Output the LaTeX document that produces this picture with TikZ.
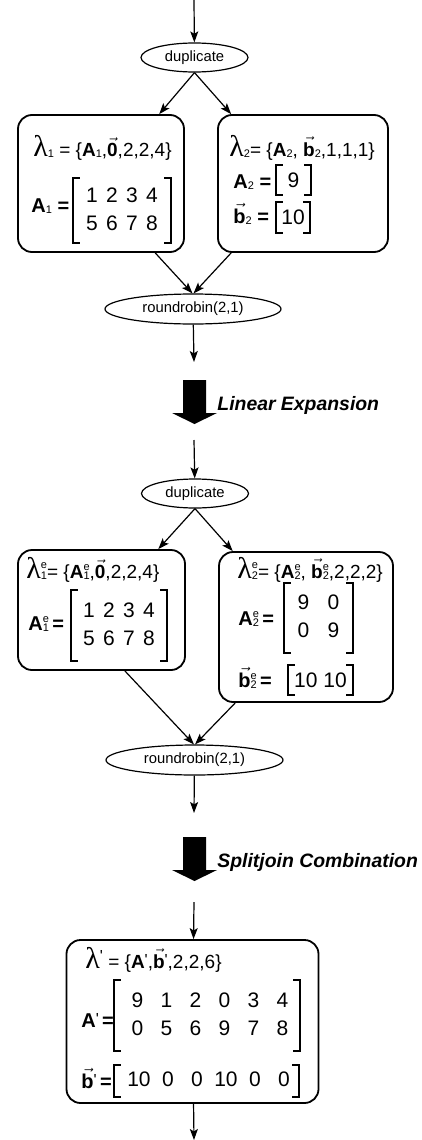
\documentclass[tikz,border=0pt]{standalone}
\usepackage{amsmath}
\usepackage{array}
\usepackage{fontspec}
\setmainfont{Liberation Sans}
\newfontfamily\lamfont{Liberation Serif}
\usetikzlibrary{shapes.geometric,arrows.meta}

\setlength\tabcolsep{0pt}
\newcolumntype{C}[1]{>{\centering\arraybackslash}p{#1}}
\newcommand\lam{{\fontsize{15}{15}\selectfont\lamfont λ}}
% small stacked super/subscript
\newcommand\ud[3][3.6pt]{{\fontsize{5.5}{6}\selectfont\mdseries\rlap{\raisebox{#1}{#2}}\raisebox{-0.6pt}{#3}}}
\newcommand\pr[1][1.5pt]{{\fontsize{8}{8}\selectfont\mdseries\raisebox{#1}{\textquotesingle}}}
\newcommand\vz{$\vec{\text{\bfseries 0}}$}
\newcommand\vb{$\vec{\text{\bfseries b}}$}
\newcommand\brackets[1]{%
  \draw[brk] ([xshift=3.5pt]#1.north west) -- (#1.north west) -- (#1.south west) -- ++(3.5pt,0);
  \draw[brk] ([xshift=-3.5pt]#1.north east) -- (#1.north east) -- (#1.south east) -- ++(-3.5pt,0);}

\tikzset{
  conn/.style={-{Stealth[length=5.5pt,width=4pt,inset=1.2pt]},line width=0.6pt},
  filt/.style={draw,ellipse,line width=0.6pt,inner sep=0pt,font=\fontsize{7.4}{9}\selectfont},
  sbox/.style={draw,rounded corners=7pt,line width=0.9pt,inner sep=0pt},
  lamtxt/.style={anchor=base west,inner sep=0pt,font=\fontsize{9.5}{11}\selectfont},
  lbl/.style={anchor=base west,inner sep=0pt,font=\fontsize{10}{12}\selectfont},
  mat/.style={inner sep=0pt,font=\fontsize{10.5}{14}\selectfont},
  brk/.style={line width=1pt},
  trans/.style={anchor=base west,inner sep=0pt,font=\fontsize{9.7}{12}\selectfont\bfseries\itshape},
}

\begin{document}
\begin{tikzpicture}[x=0.5pt,y=-0.5pt]
    \useasboundingbox (0,0) rectangle (422,1140);

    % before expansion
    \coordinate (in1) at (194,0);
    \node[filt,minimum width=53.5pt,minimum height=14.5pt] (dup1) at (194.5,57.5) {duplicate};
    \node[sbox,minimum width=83pt,minimum height=68.5pt] (L1) at (101,183.5) {};
    \node[sbox,minimum width=85pt,minimum height=68.5pt] (R1) at (303,183.5) {};
    \node[filt,minimum width=88pt,minimum height=15pt] (rr1) at (193,309) {roundrobin(2,1)};
    \coordinate (out1) at (194,362);

    \node[lamtxt] (lam1) at (33,156) {\lam\ud{}{1} = \{\textbf{A}\ud{}{1},\vz,2,2,4\}};
    \node[lbl] (a1) at (31,212) {\textbf{A}\ud{}{1} \textbf{=}};
    \node[mat,minimum width=49pt,minimum height=32.5pt] (m1) at (122,210.5)
        {\begin{tabular}{*{4}{C{10pt}}}1&2&3&4\\5&6&7&8\end{tabular}};
    \brackets{m1}

    \node[lamtxt] (lam2) at (229,156) {\lam\ud{}{2}= \{\textbf{A}\ud{}{2}, \vb\ud{}{2},1,1,1\}};
    \node[lbl] (a2) at (233,188) {\textbf{A}\ud{}{2} \textbf{=}};
    \node[mat,minimum width=17.5pt,minimum height=15pt] (m2) at (293.5,180) {9};
    \brackets{m2}
    \node[lbl] (b2) at (233,223) {\vb\ud{}{2} \textbf{=}};
    \node[mat,minimum width=17pt,minimum height=15.5pt] (v2) at (293,217.5) {10};
    \brackets{v2}

    \draw[conn] (in1) -- (dup1);
    \draw[conn] (dup1.south) -- (L1.50);
    \draw[conn] (dup1.south) -- (R1.136);
    \draw[conn] (L1.-52) -- (rr1.92);
    \draw[conn] (R1.-136) -- (rr1.88);
    \draw[conn] (rr1) -- (out1);

    % transformations
    \foreach \y/\txt/\nm in {380/Linear Expansion/le, 837/Splitjoin Combination/sc}{
        \fill (183,\y) -- (206,\y) -- (206,\y+33) -- (217,\y+33) -- (194.5,\y+44)
            -- (172,\y+33) -- (183,\y+33) -- cycle;
        \node[trans] (\nm) at (217,\y+30) {\txt};
    }

    % after expansion
    \coordinate (in2) at (194,440);
    \node[filt,minimum width=53.5pt,minimum height=14.5pt] (dup2) at (195,493.5) {duplicate};
    \node[sbox,minimum width=83.5pt,minimum height=60pt] (L2) at (101.5,610) {};
    \node[sbox,minimum width=87pt,minimum height=75pt] (R2) at (306,627) {};
    \node[filt,minimum width=88.5pt,minimum height=15pt] (rr2) at (194.5,760) {roundrobin(2,1)};
    \coordinate (out2) at (194,813);

    \node[lamtxt] (lam1e) at (26,578) {\lam\ud[5pt]{e}{1}= \{\textbf{A}\ud{e}{1},\vz,2,2,4\}};
    \node[lbl] (a1e) at (28,630) {\textbf{A}\ud{e}{1}\,\textbf{=}};
    \node[mat,minimum width=48pt,minimum height=35.5pt] (m1e) at (119,625.5)
        {\begin{tabular}{*{4}{C{10pt}}}1&2&3&4\\5&6&7&8\end{tabular}};
    \brackets{m1e}

    \node[lamtxt] (lam2e) at (237,578) {\lam\ud[5pt]{e}{2}= \{\textbf{A}\ud{e}{2}, \vb\ud[4pt]{e}{2},2,2,2\}};
    \node[lbl] (a2e) at (238,625) {\textbf{A}\ud{e}{2}\,\textbf{=}};
    \node[mat,minimum width=34.5pt,minimum height=35pt] (m2e) at (318.5,618)
        {\begin{tabular}{*{2}{C{15pt}}}9&0\\0&9\end{tabular}};
    \brackets{m2e}
    \node[lbl] (b2e) at (238,687) {\vb\ud[4pt]{e}{2}\,\textbf{=}};
    \node[mat,minimum width=32.5pt,minimum height=15pt] (v2e) at (320.5,680) {10 10};
    \brackets{v2e}

    \draw[conn] (in2) -- (dup2);
    \draw[conn] (dup2.south) -- (L2.47);
    \draw[conn] (dup2.south) -- (R2.134.6);
    \draw[conn] (L2.-69.4) -- (rr2.92);
    \draw[conn] (R2.-133.8) -- (rr2.88);
    \draw[conn] (rr2) -- (out2);

    % after combination
    \coordinate (in3) at (194,902);
    \node[sbox,minimum width=126pt,minimum height=81.5pt] (F) at (192.5,1021.5) {};
    \coordinate (out3) at (194,1140);

    \node[lamtxt] (lamp) at (85,968) {\lam\pr[3.5pt] = \{\textbf{A}\pr,\vb\pr,2,2,6\}};
    \node[lbl] (ap) at (81,1027) {\textbf{A}\pr\,\textbf{=}};
    \node[mat,minimum width=93pt,minimum height=35.5pt] (mp) at (207,1015.5)
        {\begin{tabular}{@{\hspace{3pt}}*{6}{C{14.5pt}}}9&1&2&0&3&4\\0&5&6&9&7&8\end{tabular}};
    \brackets{mp}
    \node[lbl] (bp) at (81,1088) {\vb\pr\,\textbf{=}};
    \node[mat,minimum width=92.5pt,minimum height=16pt] (vp) at (206.5,1081)
        {\begin{tabular}{@{\hspace{5pt}}*{6}{C{14.5pt}}}10&0&0&10&0&0\end{tabular}};
    \brackets{vp}

    \draw[conn] (in3) -- (F);
    \draw[conn] (F) -- (out3);
\end{tikzpicture}
\end{document}
